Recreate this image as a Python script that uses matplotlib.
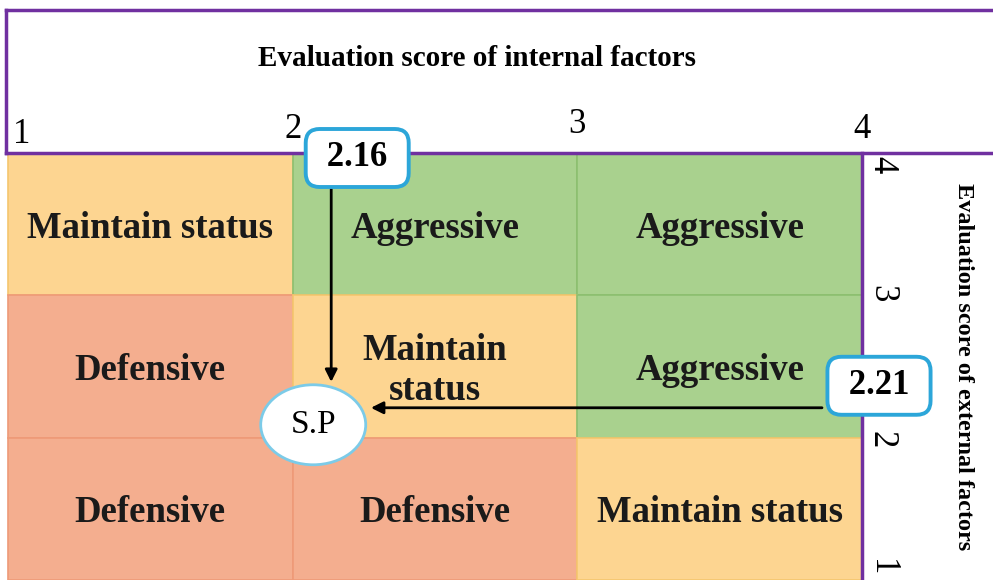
import matplotlib.pyplot as plt
from matplotlib.patches import Rectangle, Ellipse

# data
score_edges = [1, 2, 3, 4]
# rows from top (external 3-4) to bottom (external 1-2), columns internal 1-2, 2-3, 3-4
strategies = [
    ['Maintain status', 'Aggressive', 'Aggressive'],
    ['Defensive', 'Maintain\nstatus', 'Aggressive'],
    ['Defensive', 'Defensive', 'Maintain status'],
]
internal_score = 2.16
external_score = 2.21
point_label = 'S.P'
title_internal = 'Evaluation score of internal factors'
title_external = 'Evaluation score of external factors'

colors = {
    'Maintain status': '#FDD591',
    'Maintain\nstatus': '#FDD591',
    'Aggressive': '#A9D18E',
    'Defensive': '#F4AE8F',
}
edge_colors = {
    'Maintain status': '#F5C66E',
    'Maintain\nstatus': '#F5C66E',
    'Aggressive': '#8DBF70',
    'Defensive': '#EE9A78',
}
purple = '#7030A0'
cyan = '#2CA6D9'

plt.rcParams['font.family'] = ['Liberation Serif', 'DejaVu Serif']

W, H = 993, 580
fig = plt.figure(figsize=(W / 100, H / 100), dpi=100)
ax = fig.add_axes([0, 0, 1, 1])

# pixel scale: score 1 at x=8px, 4 at x=862px; external 1 at bottom, 4 at y=153px from top
sx = (862 - 8) / 3
sy = (580 - 153) / 3
ax.set_xlim(1 - 8 / sx, 1 + (W - 8) / sx)
ax.set_ylim(1, 1 + H / sy)
ax.axis('off')

top = score_edges[-1]
# grid cells
for i, row in enumerate(strategies):
    y0 = top - 1 - i
    for j, name in enumerate(row):
        x0 = score_edges[j]
        ax.add_patch(Rectangle((x0, y0), 1, 1, facecolor=colors[name],
                               edgecolor=edge_colors[name], lw=1.2, zorder=1))
        ax.text(x0 + 0.5, y0 + 0.5 - 4 / sy, name, ha='center', va='center',
                fontsize=26.5, fontweight='bold', color='#1a1a1a',
                linespacing=1.15, zorder=3)

# top box (internal factors)
box_top = 1 + (H - 10) / sy
left = 1 - 2 / sx
ax.plot([left, left], [top, box_top], color=purple, lw=2.5, zorder=4,
        solid_capstyle='projecting')
ax.plot([left, 5], [box_top, box_top], color=purple, lw=2.5, zorder=4)
ax.plot([left, 5], [top, top], color=purple, lw=2.5, zorder=4)
ax.text(1 + 469 / sx, 1 + (H - 58) / sy, title_internal,
        ha='center', va='center', fontsize=21, fontweight='bold')

# right border (external factors)
ax.plot([4, 4], [1, top], color=purple, lw=2.5, zorder=4)
ax.text(4 + 101 / sx, 2.5, title_external, ha='center', va='center',
        rotation=-90, fontsize=17.5, fontweight='bold')

# tick numbers
top_dx = {1: 14, 2: 0, 3: 0, 4: 0}
top_dy = {1: 2, 2: 7, 3: 12, 4: 7}
right_dy = {1: 12, 2: -2, 3: 2, 4: -12}
for v in score_edges:
    ax.text(v + top_dx[v] / sx, top + top_dy[v] / sy, str(v),
            ha='center', va='bottom', fontsize=25)
    ax.text(4 + 3 / sx, v + right_dy[v] / sy,
            str(v), ha='left', va='center', rotation=-90, fontsize=25)

# S.P ellipse, offset slightly from the intersection
ex = internal_score - 25 / sx
ey = external_score - 17 / sy
ax.add_patch(Ellipse((ex, ey), 105 / sx, 80 / sy, facecolor='white',
                     edgecolor='#7CCBE8', lw=2, zorder=5))
ax.text(ex, ey, point_label, ha='center', va='center', fontsize=24, zorder=6)

# arrows
arrow_x = internal_score - 7 / sx
ax.annotate('', xy=(arrow_x, ey + 40 / sy + 0.02), xytext=(arrow_x, top),
            arrowprops=dict(arrowstyle='-|>', color='black', lw=2,
                            mutation_scale=18, shrinkA=0, shrinkB=0), zorder=4)
ax.annotate('', xy=(ex + 52 / sx + 0.02, external_score),
            xytext=(4 - 40 / sx, external_score),
            arrowprops=dict(arrowstyle='-|>', color='black', lw=2,
                            mutation_scale=18, shrinkA=0, shrinkB=0), zorder=4)

# value callouts
bbox = dict(boxstyle='round,pad=0.36,rounding_size=0.4', facecolor='white',
            edgecolor=cyan, lw=2.8)
ax.text(internal_score + 19 / sx, top - 5 / sy, f' {internal_score:.2f} ',
        ha='center', va='center', fontsize=25, fontweight='bold', bbox=bbox, zorder=7)
ax.text(4 + 17 / sx, external_score + 22 / sy, f' {external_score:.2f} ',
        ha='center', va='center', fontsize=25, fontweight='bold', bbox=bbox, zorder=7)

fig.savefig('out.png', dpi=100)
